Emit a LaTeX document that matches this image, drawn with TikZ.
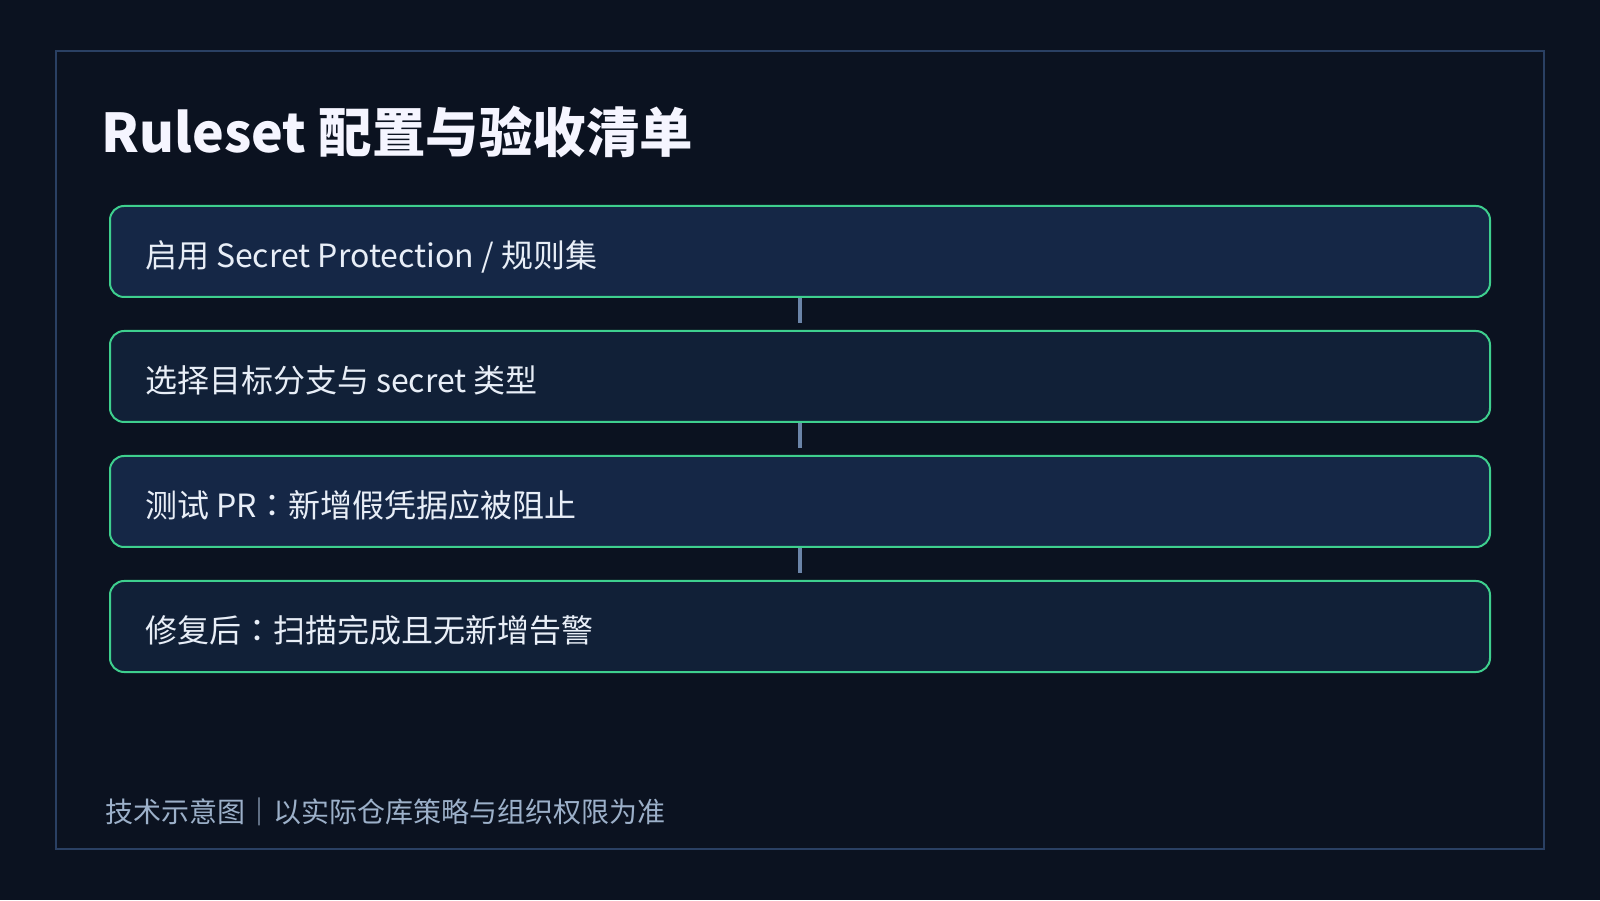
\documentclass[tikz,border=0pt]{standalone}
\usepackage{fontspec}
\setmainfont{Noto Sans CJK SC}
\newfontfamily\tcfont{Noto Sans CJK TC}
\usepackage{xcolor}
\usepackage{tikz}

\definecolor{bgdark}{HTML}{0B1220}
\definecolor{framecol}{HTML}{2A4063}
\definecolor{edgegreen}{HTML}{3ECF8E}
\definecolor{fillA}{HTML}{152746}
\definecolor{fillB}{HTML}{112037}
\definecolor{linkcol}{HTML}{6B84A8}
\definecolor{itemtext}{HTML}{E8EEF7}
\definecolor{notetext}{HTML}{9CB0C9}
\newcommand{\wcolon}{{\tcfont ：}}

\begin{document}
\begin{tikzpicture}[x=1pt, y=1pt,
  item/.style={draw=edgegreen, line width=2pt, rounded corners=14pt, minimum width=1380pt, minimum height=91pt,
    inner xsep=35pt, text width=1310pt, align=flush left, text height=36pt, text depth=4pt,
    font=\fontsize{32pt}{38pt}\selectfont, text=itemtext},
  link/.style={draw=linkcol, line width=4pt}]
\fill[bgdark] (0,0) rectangle (1600,900);
\useasboundingbox (0,0) rectangle (1600,900);
\draw[framecol, line width=2.7pt] (56,51) rectangle (1544,849);

\node[anchor=base west, text=white!96!blue, font=\fontsize{53.5pt}{60pt}\selectfont\bfseries] (title) at (98,747) {Ruleset 配置与验收清单};

\node[item, fill=fillA] (s1) at (800,648.5) {启用 Secret Protection / 规则集};
\node[item, fill=fillB] (s2) at (800,523.5) {选择目标分支与 secret 类型};
\node[item, fill=fillA] (s3) at (800,398.5) {测试 PR\wcolon 新增假凭据应被阻止};
\node[item, fill=fillB] (s4) at (800,273.5) {修复后\wcolon 扫描完成且无新增告警};

\coordinate (e2) at ([yshift=7pt]s2.north);
\coordinate (e3) at ([yshift=7pt]s3.north);
\coordinate (e4) at ([yshift=7pt]s4.north);
\draw[link] (s1.south) -- (e2);
\draw[link] (s2.south) -- (e3);
\draw[link] (s3.south) -- (e4);

\node[anchor=base west, text=notetext, font=\fontsize{28pt}{34pt}\selectfont] (note) at (102,77.5) {技术示意图｜以实际仓库策略与组织权限为准};
\end{tikzpicture}
\end{document}
